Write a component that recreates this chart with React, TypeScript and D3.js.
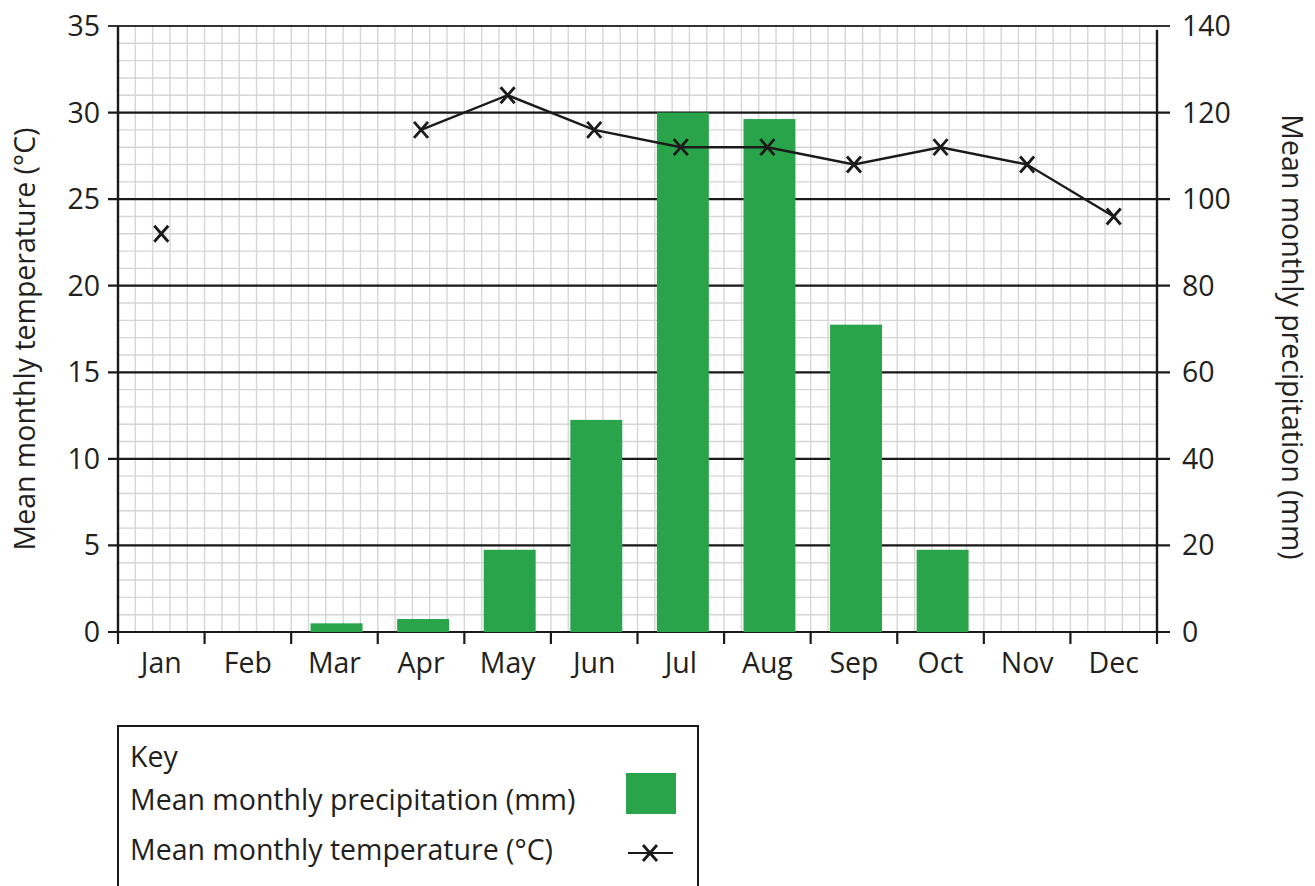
import React, { useEffect, useRef } from 'react';
import * as d3 from 'd3';

const months = ['Jan', 'Feb', 'Mar', 'Apr', 'May', 'Jun', 'Jul', 'Aug', 'Sep', 'Oct', 'Nov', 'Dec'];
const precipitation = [0, 0, 2, 3, 19, 49, 120, 118.5, 71, 19, 0, 0];
const temperature: (number | null)[] = [23, null, null, 29, 31, 29, 28, 28, 27, 28, 27, 24];
const tempTicks = [0, 5, 10, 15, 20, 25, 30, 35];
const precipTicks = [0, 20, 40, 60, 80, 100, 120, 140];

const FONT = '"Open Sans", sans-serif';
const FS = 28.5;

const App: React.FC = () => {
  const svgRef = useRef<SVGSVGElement>(null);

  useEffect(() => {
    if (!svgRef.current) return;
    const width = 1315;
    const height = 886;
    const left = 118;
    const right = 1157;
    const top = 26;
    const bottom = 632;

    const svg = d3.select(svgRef.current)
      .attr('width', width)
      .attr('height', height)
      .attr('viewBox', `0 0 ${width} ${height}`)
      .html('');

    const x = d3.scaleBand<string>().domain(months).range([left, right]).padding(0);
    const bar = d3.scaleBand<string>().domain(months).range([left, right])
      .paddingInner(0.4).paddingOuter(0.2).align(0.56);
    const yT = d3.scaleLinear().domain([0, 35]).range([bottom, top]);
    const yP = d3.scaleLinear().domain([0, 140]).range([bottom, top]);

    // minor grid: 1 degree steps and fifths of a month
    const grid = svg.append('g');
    d3.range(0, 36).forEach(v => {
      grid.append('line')
        .attr('x1', left).attr('x2', right)
        .attr('y1', yT(v)).attr('y2', yT(v))
        .attr('stroke', '#d6d6d6').attr('stroke-width', 1.4);
    });
    const step = x.bandwidth() / 5;
    d3.range(0, 61).forEach(i => {
      grid.append('line')
        .attr('x1', left + i * step).attr('x2', left + i * step)
        .attr('y1', top).attr('y2', bottom)
        .attr('stroke', '#d6d6d6').attr('stroke-width', 1.4);
    });

    // major lines every 5 degrees
    tempTicks.forEach(v => {
      svg.append('line')
        .attr('x1', left - 10).attr('x2', right + 13)
        .attr('y1', yT(v)).attr('y2', yT(v))
        .attr('stroke', v === 35 ? '#333' : '#1a1a1a').attr('stroke-width', 2.2);
    });

    // bars
    svg.append('g').selectAll('rect')
      .data(precipitation)
      .enter()
      .append('rect')
      .attr('x', (_, i) => bar(months[i])!)
      .attr('width', bar.bandwidth())
      .attr('y', d => yP(d))
      .attr('height', d => bottom - yP(d))
      .attr('fill', '#2aa44b');

    // axes lines
    svg.append('line')
      .attr('x1', left).attr('x2', left).attr('y1', top).attr('y2', bottom + 1)
      .attr('stroke', '#1a1a1a').attr('stroke-width', 2.4);
    svg.append('line')
      .attr('x1', right).attr('x2', right).attr('y1', top + 4).attr('y2', bottom + 1)
      .attr('stroke', '#1a1a1a').attr('stroke-width', 2.4);

    // month ticks
    d3.range(0, 13).forEach(i => {
      const xx = left + i * x.bandwidth();
      svg.append('line')
        .attr('x1', xx).attr('x2', xx).attr('y1', bottom).attr('y2', bottom + 12)
        .attr('stroke', '#1a1a1a').attr('stroke-width', 2.2);
    });

    const textCol = '#231f20';
    // month labels
    svg.append('g').selectAll('text')
      .data(months)
      .enter()
      .append('text')
      .attr('x', d => x(d)! + x.bandwidth() / 2)
      .attr('y', 673)
      .attr('text-anchor', 'middle')
      .attr('font-family', FONT)
      .attr('font-size', FS)
      .attr('fill', textCol)
      .text(d => d);

    // left tick labels
    svg.append('g').selectAll('text')
      .data(tempTicks)
      .enter()
      .append('text')
      .attr('x', 100)
      .attr('y', d => yT(d) + 10)
      .attr('text-anchor', 'end')
      .attr('font-family', FONT)
      .attr('font-size', FS)
      .attr('fill', textCol)
      .text(d => d);

    // right tick labels
    svg.append('g').selectAll('text')
      .data(precipTicks)
      .enter()
      .append('text')
      .attr('x', 1182)
      .attr('y', d => yP(d) + 10)
      .attr('text-anchor', 'start')
      .attr('font-family', FONT)
      .attr('font-size', FS)
      .attr('fill', textCol)
      .text(d => d);

    // axis titles
    svg.append('text')
      .attr('transform', `translate(35, ${(top + bottom) / 2 + 10}) rotate(-90)`)
      .attr('text-anchor', 'middle')
      .attr('font-family', FONT)
      .attr('font-size', FS)
      .attr('fill', textCol)
      .text('Mean monthly temperature (°C)');
    svg.append('text')
      .attr('transform', `translate(1282, ${(top + bottom) / 2 + 8}) rotate(90)`)
      .attr('text-anchor', 'middle')
      .attr('font-family', FONT)
      .attr('font-size', FS)
      .attr('fill', textCol)
      .text('Mean monthly precipitation (mm)');

    // temperature line (Apr-Dec connected), Jan marker alone
    const pts = temperature
      .map((t, i) => ({ m: months[i], t, i }))
      .filter(d => d.t !== null) as { m: string; t: number; i: number }[];
    const cx = (m: string) => x(m)! + x.bandwidth() / 2;
    const line = d3.line<{ m: string; t: number }>()
      .x(d => cx(d.m))
      .y(d => yT(d.t));
    svg.append('path')
      .attr('d', line(pts.filter(d => d.i >= 3)))
      .attr('fill', 'none')
      .attr('stroke', '#1a1a1a')
      .attr('stroke-width', 2.4);

    const cross = (g: d3.Selection<SVGGElement, unknown, null, undefined>, px: number, py: number) => {
      const sx = 7;
      const sy = 8;
      g.append('path')
        .attr('d', `M${px - sx},${py - sy}L${px + sx},${py + sy}M${px + sx},${py - sy}L${px - sx},${py + sy}`)
        .attr('stroke', '#1a1a1a')
        .attr('stroke-width', 2.8)
        .attr('fill', 'none');
    };
    const marks = svg.append('g');
    pts.forEach(d => cross(marks as any, cx(d.m), yT(d.t)));

    // key
    const key = svg.append('g');
    key.append('rect')
      .attr('x', 118).attr('y', 726).attr('width', 580).attr('height', 175)
      .attr('fill', 'none').attr('stroke', '#1a1a1a').attr('stroke-width', 2);
    key.append('text').attr('x', 130).attr('y', 767)
      .attr('font-family', FONT).attr('font-size', FS).attr('fill', textCol).text('Key');
    key.append('text').attr('x', 130).attr('y', 810)
      .attr('font-family', FONT).attr('font-size', FS).attr('fill', textCol).text('Mean monthly precipitation (mm)');
    key.append('text').attr('x', 130).attr('y', 860)
      .attr('font-family', FONT).attr('font-size', FS).attr('fill', textCol).text('Mean monthly temperature (°C)');
    key.append('rect')
      .attr('x', 626).attr('y', 773).attr('width', 50).attr('height', 41)
      .attr('fill', '#2aa44b');
    key.append('line')
      .attr('x1', 628).attr('x2', 673).attr('y1', 853).attr('y2', 853)
      .attr('stroke', '#1a1a1a').attr('stroke-width', 2.2);
    cross(key as any, 650, 853);
  }, []);

  return <svg ref={svgRef} style={{ display: 'block', position: 'absolute', left: 0, top: 0 }} />;
};

export default App;
